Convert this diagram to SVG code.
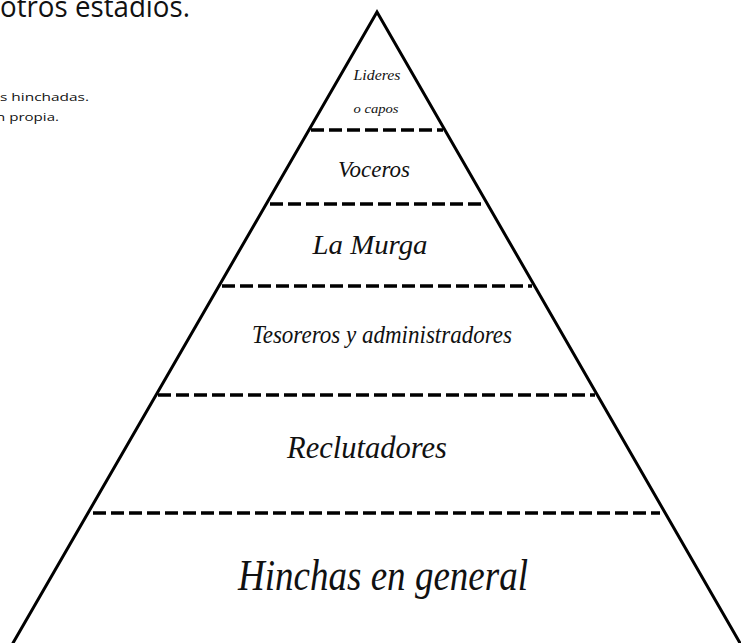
<svg xmlns="http://www.w3.org/2000/svg" width="741" height="643" viewBox="0 0 741 643">
<style>
.bg{fill:#fff}
.edge{stroke:#000;stroke-width:3;fill:none;stroke-linecap:round}
.dash{stroke:#000;stroke-width:3.5;stroke-dasharray:13 5;fill:none}
.lbl{font-family:"Liberation Serif","DejaVu Serif",serif;font-style:italic;fill:#111;text-anchor:middle}
.doc{font-family:"Open Sans","Liberation Sans",sans-serif;fill:#111}
</style>
<rect class="bg" x="0" y="0" width="741" height="643"/>
<g id="page-text">
<text class="doc" x="0" y="17" font-size="30" textLength="190" lengthAdjust="spacingAndGlyphs">otros estadios.</text>
<text class="doc" x="0" y="101" font-size="11" textLength="89" lengthAdjust="spacingAndGlyphs">s hinchadas.</text>
<text class="doc" x="-4" y="121" font-size="11" textLength="63" lengthAdjust="spacingAndGlyphs">n propia.</text>
</g>
<g id="pyramid">
<path class="edge" d="M13 643 L377 12 L740 643"/>
</g>
<g id="connectors">
<line class="dash" x1="311" y1="130" x2="443" y2="130"/>
<line class="dash" x1="270" y1="204" x2="483" y2="204"/>
<line class="dash" x1="222" y1="286" x2="532" y2="286"/>
<line class="dash" x1="158" y1="395" x2="595" y2="395"/>
<line class="dash" x1="93" y1="513" x2="660" y2="513"/>
</g>
<g id="node-lideres">
<text class="lbl" x="377" y="80" font-size="15" textLength="47" lengthAdjust="spacingAndGlyphs">Lideres</text>
<text class="lbl" x="376" y="113" font-size="12" textLength="45" lengthAdjust="spacingAndGlyphs">o capos</text>
</g>
<g id="node-voceros">
<text class="lbl" x="374" y="177" font-size="23" textLength="72" lengthAdjust="spacingAndGlyphs">Voceros</text>
</g>
<g id="node-murga">
<text class="lbl" x="370" y="254" font-size="27" textLength="115" lengthAdjust="spacingAndGlyphs">La Murga</text>
</g>
<g id="node-tesoreros">
<text class="lbl" x="382" y="343" font-size="25" textLength="260" lengthAdjust="spacingAndGlyphs">Tesoreros y administradores</text>
</g>
<g id="node-reclutadores">
<text class="lbl" x="367" y="458" font-size="32" textLength="160" lengthAdjust="spacingAndGlyphs">Reclutadores</text>
</g>
<g id="node-hinchas">
<text class="lbl" x="383" y="590" font-size="44" textLength="290" lengthAdjust="spacingAndGlyphs">Hinchas en general</text>
</g>
</svg>
